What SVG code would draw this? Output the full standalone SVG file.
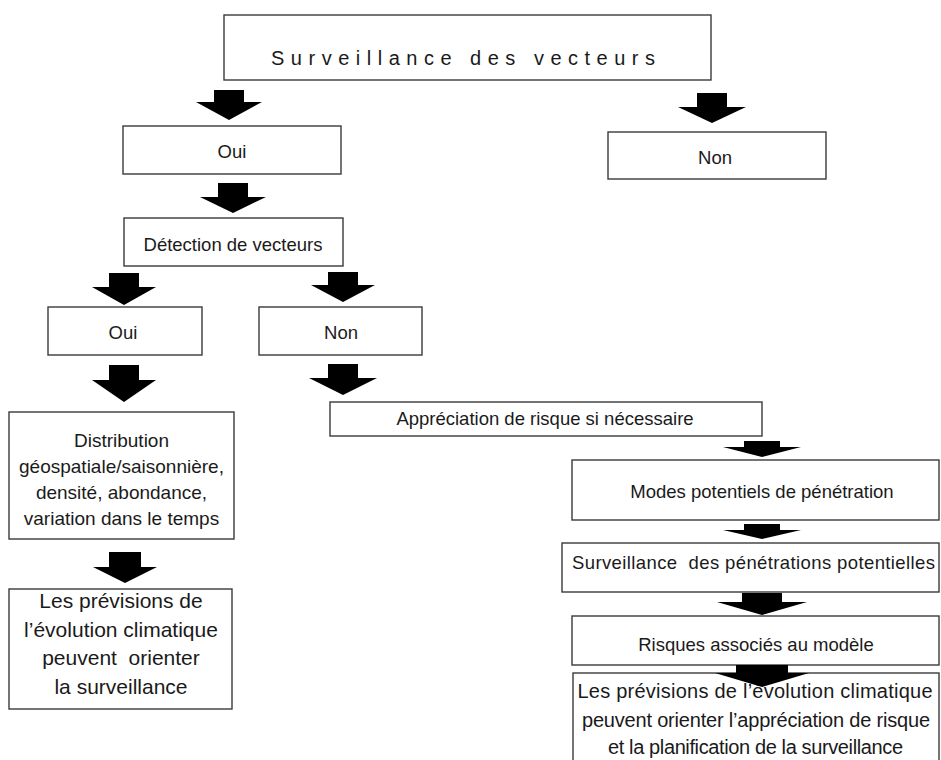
<svg xmlns="http://www.w3.org/2000/svg" width="941" height="760" viewBox="0 0 941 760">
<style>
.box{fill:#fff;stroke:#3a3a3a;stroke-width:1.4}
.t{font-family:"Liberation Sans",Arial,sans-serif;fill:#1a1a1a;text-anchor:middle;white-space:pre}
.arr{fill:#000}
</style>
<rect width="941" height="760" fill="#fff"/>
<g id="n-top"><rect class="box" x="224" y="15" width="487" height="65"/><text class="t" x="271" y="65" style="text-anchor:start;font-size:20px" textLength="384" lengthAdjust="spacing">Surveillance des vecteurs</text></g>
<g id="n-oui1"><rect class="box" x="123" y="126" width="218" height="48"/><text class="t" x="232" y="158" font-size="18.5">Oui</text></g>
<g id="n-non1"><rect class="box" x="608" y="132" width="218" height="47"/><text class="t" x="715" y="164" font-size="18.5">Non</text></g>
<g id="n-detection"><rect class="box" x="124" y="218" width="219" height="48"/><text class="t" x="233" y="251" font-size="18.5">Détection de vecteurs</text></g>
<g id="n-oui2"><rect class="box" x="48" y="307" width="154" height="48"/><text class="t" x="123" y="339" font-size="18.5">Oui</text></g>
<g id="n-non2"><rect class="box" x="259" y="307" width="163" height="48"/><text class="t" x="341" y="339" font-size="18.5">Non</text></g>
<g id="n-appreciation"><rect class="box" x="330" y="402" width="432" height="34"/><text class="t" x="545" y="425" font-size="18.5">Appréciation de risque si nécessaire</text></g>
<g id="n-distribution"><rect class="box" x="9" y="412" width="225" height="127"/>
<text class="t" x="121.5" y="447" font-size="19">Distribution</text>
<text class="t" x="121.5" y="473" font-size="19">géospatiale/saisonnière,</text>
<text class="t" x="121.5" y="499" font-size="19">densité, abondance,</text>
<text class="t" x="121.5" y="525" font-size="19">variation dans le temps</text></g>
<g id="n-previsions-left"><rect class="box" x="9" y="589" width="223" height="120"/>
<text class="t" x="121" y="608" font-size="21">Les prévisions de</text>
<text class="t" x="121" y="636.5" font-size="21">l’évolution climatique</text>
<text class="t" x="121" y="665" font-size="21">peuvent  orienter</text>
<text class="t" x="121" y="693.5" font-size="21">la surveillance</text></g>
<g id="n-modes"><rect class="box" x="572" y="460" width="367" height="60"/><text class="t" x="762" y="498" font-size="18.5">Modes potentiels de pénétration</text></g>
<g id="n-surv-pen"><rect class="box" x="562" y="543" width="377" height="49"/><text class="t" x="753.5" y="569" font-size="18.5" textLength="363" lengthAdjust="spacing">Surveillance  des pénétrations potentielles</text></g>
<g id="n-risques"><rect class="box" x="572" y="616" width="367" height="49"/><text class="t" x="756" y="651" font-size="18.5">Risques associés au modèle</text></g>
<g id="n-previsions-right"><rect class="box" x="573" y="673" width="366" height="100"/>
<text class="t" x="755" y="698" font-size="20" textLength="355" lengthAdjust="spacing">Les prévisions de l’évolution climatique</text>
<text class="t" x="756" y="727" font-size="20" textLength="348" lengthAdjust="spacing">peuvent orienter l’appréciation de risque</text>
<text class="t" x="755.5" y="754" font-size="20" textLength="295" lengthAdjust="spacing">et la planification de la surveillance</text></g>
<g id="connectors">
<polygon class="arr" points="214,90 244,90 244,102 262,102 229,120 196,102 214,102"/>
<polygon class="arr" points="697,93 727,93 727,107 746,107 712,123 678,107 697,107"/>
<polygon class="arr" points="218,183 248,183 248,197 266,197 233,213 200,197 218,197"/>
<polygon class="arr" points="109,273 139,273 139,287 156,287 124,305 92,287 109,287"/>
<polygon class="arr" points="328,272 358,272 358,285 375,285 343,302 311,285 328,285"/>
<polygon class="arr" points="109,365 139,365 139,380 156,380 124,402 92,380 109,380"/>
<polygon class="arr" points="328,364 358,364 358,378 377,378 343,395 309,378 328,378"/>
<polygon class="arr" points="109,552 141,552 141,567 157,567 125,583 93,567 109,567"/>
<polygon class="arr" points="744,441 780,441 780,447 801,447 762,457 723,447 744,447"/>
<polygon class="arr" points="744,524 780,524 780,530 801,530 762,539 723,530 744,530"/>
<polygon class="arr" points="742,593 782,593 782,602 807,602 762,615 717,602 742,602"/>
<polygon class="arr" points="736,665 788,665 788,673 809,673 762,687 715,673 736,673"/>
</g>
</svg>
